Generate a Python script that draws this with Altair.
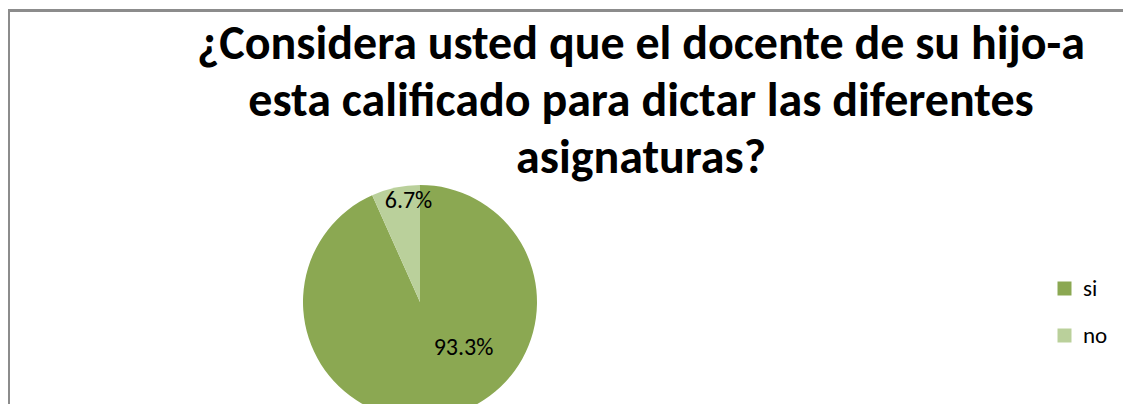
import altair as alt
import pandas as pd

categorias = ["si", "no"]
porcentajes = [93.3, 6.7]
etiquetas = ["93.3%", "6.7%"]
titulo = [
    "¿Considera usted que el docente de su hijo-a",
    "esta calificado para dictar las diferentes",
    "asignaturas?",
]
colores = ["#8BA852", "#BAD09B"]

df = pd.DataFrame({
    "categoria": categorias,
    "valor": porcentajes,
    "etiqueta": etiquetas,
    "orden": list(range(len(categorias))),
})

FONT = "Carlito, Calibri, Lato, sans-serif"
CX, CY, R = 412, 294, 117
W, H = 1115, 396

base = alt.Chart(df)
theta = alt.Theta("valor:Q", stack=True)
color = alt.Color(
    "categoria:N",
    scale=alt.Scale(domain=categorias, range=colores),
    legend=alt.Legend(
        title=None, orient="none", legendX=1045, legendY=269,
        direction="vertical", symbolType="square", symbolSize=196,
        symbolStrokeWidth=0, labelFont=FONT, labelFontSize=23,
        labelColor="black", labelOffset=7, rowPadding=23, padding=0,
    ),
)

pie = base.mark_arc(radius=R).encode(
    theta=theta, color=color, order=alt.Order("orden:Q"),
    x=alt.value(CX), y=alt.value(CY),
)

txt_no = base.mark_text(radius=103, dx=10, font=FONT, fontSize=24, color="black", baseline="middle").encode(
    theta=theta, order=alt.Order("orden:Q"),
    text=alt.condition(alt.datum.categoria == "no", "etiqueta:N", alt.value("")),
    x=alt.value(CX), y=alt.value(CY),
)
txt_si = base.mark_text(radius=60, dx=31, dy=-13, font=FONT, fontSize=24, color="black", baseline="middle").encode(
    theta=theta, order=alt.Order("orden:Q"),
    text=alt.condition(alt.datum.categoria == "si", "etiqueta:N", alt.value("")),
    x=alt.value(CX), y=alt.value(CY),
)

uno = pd.DataFrame({"k": [0]})
marco_sup = alt.Chart(uno).mark_rule(color="#8c8c8c", strokeWidth=3).encode(
    x=alt.value(0), x2=alt.value(W + 10), y=alt.value(2.5), y2=alt.value(2.5)
)
marco_izq = alt.Chart(uno).mark_rule(color="#8c8c8c", strokeWidth=3).encode(
    x=alt.value(0.5), x2=alt.value(0.5), y=alt.value(2.5), y2=alt.value(H + 10)
)
tit = alt.Chart(uno).mark_text(
    font=FONT, fontSize=48, fontWeight="bold", color="black",
    align="center", baseline="alphabetic", lineHeight=57,
).encode(x=alt.value(633), y=alt.value(51), text=alt.value(titulo))

chart = alt.layer(marco_sup, marco_izq, pie, txt_no, txt_si, tit).properties(
    width=W, height=H, padding=0, autosize="none"
).configure_view(strokeWidth=0, strokeOpacity=0)

chart.save("out.html", embed_options={"renderer": "svg", "actions": False})
